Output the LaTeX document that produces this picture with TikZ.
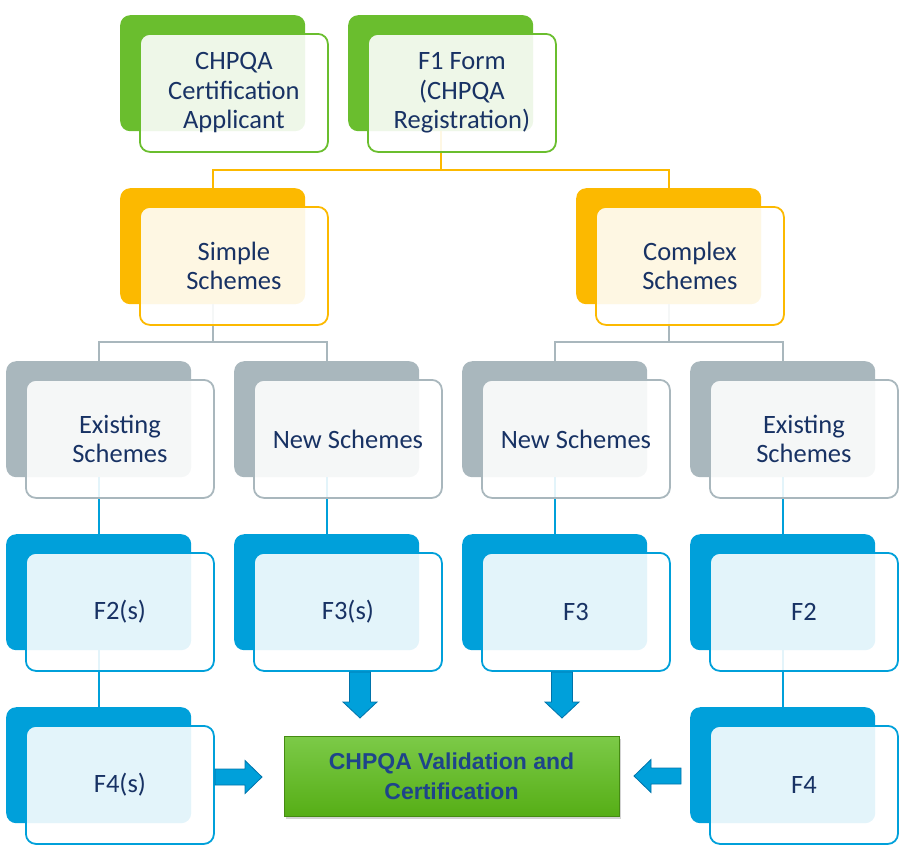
\documentclass[tikz,border=0pt]{standalone}
\usepackage{fontspec}
\setmainfont{Carlito}
\newfontfamily\valfont{Liberation Sans}
\usetikzlibrary{shadows}

\definecolor{cgreen}{RGB}{106,190,46}
\definecolor{corange}{RGB}{252,185,0}
\definecolor{cgray}{RGB}{169,183,189}
\definecolor{cblue}{RGB}{0,160,218}
\definecolor{cdarkblue}{RGB}{0,115,170}
\definecolor{ctext}{RGB}{24,50,100}
\definecolor{cvaltext}{RGB}{30,68,138}
\definecolor{cvaltop}{RGB}{124,202,72}
\definecolor{cvalbot}{RGB}{86,174,22}

\tikzset{
  back/.style={rectangle, rounded corners=10pt, fill=#1, anchor=north west,
    minimum width=185pt, minimum height=116pt, inner sep=0pt},
  front/.style={rectangle, rounded corners=10pt, draw=#1, line width=1.8pt,
    fill=white, fill opacity=0.89, text opacity=1, anchor=north west,
    minimum width=188pt, minimum height=118pt, inner sep=0pt, align=center,
    text=ctext, font=\fontsize{26.5}{29.5}\selectfont},
  conn/.style={draw=#1, line width=2pt},
  barrow/.style={fill=cblue, draw=cdarkblue, line width=0.8pt, line join=miter}
}

\begin{document}
\begin{tikzpicture}[x=1pt,y=-1pt]
  \useasboundingbox (0,0) rectangle (904,852);

  % back boxes
  \node[back=cgreen]  (appB)     at (120,15) {};
  \node[back=cgreen]  (f1B)      at (348,15) {};
  \node[back=corange] (simpleB)  at (120,188) {};
  \node[back=corange] (complexB) at (576,188) {};
  \node[back=cgray]   (exSB)     at (6,361) {};
  \node[back=cgray]   (newSB)    at (234,361) {};
  \node[back=cgray]   (newCB)    at (462,361) {};
  \node[back=cgray]   (exCB)     at (690,361) {};
  \node[back=cblue]   (f2sB)     at (6,534) {};
  \node[back=cblue]   (f3sB)     at (234,534) {};
  \node[back=cblue]   (f3B)      at (462,534) {};
  \node[back=cblue]   (f2B)      at (690,534) {};
  \node[back=cblue]   (f4sB)     at (6,707) {};
  \node[back=cblue]   (f4B)      at (690,707) {};

  % connectors
  \draw[conn=corange] (f1B.south) -- ++(0,39) -| (simpleB.north);
  \draw[conn=corange] (f1B.south) ++(0,39) -| (complexB.north);
  \draw[conn=cgray] (simpleB.south) -- ++(0,38) -| (exSB.north);
  \draw[conn=cgray] (simpleB.south) ++(0,38) -| (newSB.north);
  \draw[conn=cgray] (complexB.south) -- ++(0,38) -| (newCB.north);
  \draw[conn=cgray] (complexB.south) ++(0,38) -| (exCB.north);
  \draw[conn=cblue] (exSB.south) -- (f2sB.north);
  \draw[conn=cblue] (newSB.south) -- (f3sB.north);
  \draw[conn=cblue] (newCB.south) -- (f3B.north);
  \draw[conn=cblue] (exCB.south) -- (f2B.north);
  \draw[conn=cblue] (f2sB.south) -- (f4sB.north);
  \draw[conn=cblue] (f2B.south) -- (f4B.north);

  % front boxes
  \node[front=cgreen]  (app)     at (139,33) {CHPQA\\Certification\\Applicant};
  \node[front=cgreen]  (f1)      at (367,33) {F1 Form\\(CHPQA\\Registration)};
  \node[front=corange] (simple)  at (139,206) {Simple\\Schemes};
  \node[front=corange] (complex) at (595,206) {Complex\\Schemes};
  \node[front=cgray]   (exS)     at (25,379) {Existing\\Schemes};
  \node[front=cgray]   (newS)    at (253,379) {New Schemes};
  \node[front=cgray]   (newC)    at (481,379) {New Schemes};
  \node[front=cgray]   (exC)     at (709,379) {Existing\\Schemes};
  \node[front=cblue]   (f2s)     at (25,552) {F2(s)};
  \node[front=cblue]   (f3s)     at (253,552) {F3(s)};
  \node[front=cblue]   (f3)      at (481,552) {F3};
  \node[front=cblue]   (f2)      at (709,552) {F2};
  \node[front=cblue]   (f4s)     at (25,725) {F4(s)};
  \node[front=cblue]   (f4)      at (709,725) {F4};

  % validation
  \node[rectangle, minimum width=335pt, minimum height=80pt, inner sep=0pt,
    top color=cvaltop, bottom color=cvalbot, draw=cvalbot!80!black, line width=0.3pt,
    drop shadow={shadow xshift=2pt, shadow yshift=-3pt, opacity=0.35},
    align=center, text=cvaltext, font=\valfont\bfseries\fontsize{23}{30}\selectfont]
    (valid) at (451.5,776) {CHPQA Validation and\\Certification};

  % block arrows
  \coordinate (arrF3s) at (360,672);
  \coordinate (arrF3)  at (562,672);
  \coordinate (arrF4s) at (215,777);
  \coordinate (arrF4)  at (681,776);
  \draw[barrow] (arrF3s) ++(-10.5,0) -- ++(21,0) -- ++(0,30) -- ++(6.5,0)
    -- ++(-17,16) -- ++(-17,-16) -- ++(6.5,0) -- cycle;
  \draw[barrow] (arrF3) ++(-10.5,0) -- ++(21,0) -- ++(0,30) -- ++(6.5,0)
    -- ++(-17,16) -- ++(-17,-16) -- ++(6.5,0) -- cycle;
  \draw[barrow] (arrF4s) ++(0,-8) -- ++(30,0) -- ++(0,-8.5) -- ++(17,16.5)
    -- ++(-17,16.5) -- ++(0,-8.5) -- ++(-30,0) -- cycle;
  \draw[barrow] (arrF4) ++(0,-8) -- ++(-30,0) -- ++(0,-8.5) -- ++(-17,16.5)
    -- ++(17,16.5) -- ++(0,-8.5) -- ++(30,0) -- cycle;
\end{tikzpicture}
\end{document}
